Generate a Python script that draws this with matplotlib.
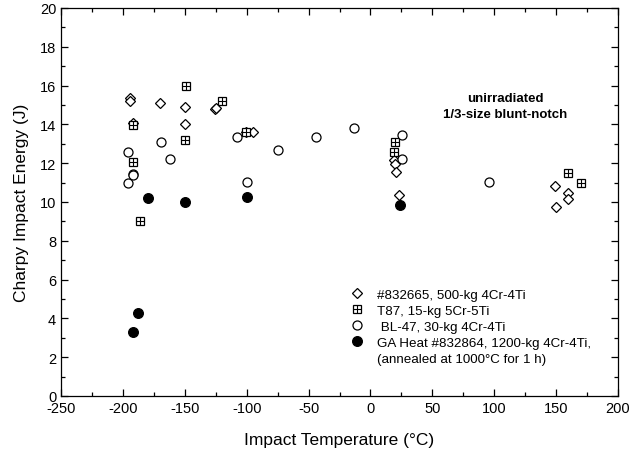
import matplotlib
matplotlib.use("Agg")
import matplotlib.pyplot as plt
from matplotlib.lines import Line2D
from matplotlib.legend_handler import HandlerTuple
from matplotlib.ticker import MultipleLocator

plt.rcParams['font.family'] = ['Liberation Sans', 'DejaVu Sans']
plt.rcParams['axes.unicode_minus'] = False

# #832665, 500-kg 4Cr-4Ti (open diamonds)
t_832665 = [-194, -194, -192, -170, -150, -150, -125.5, -125, -100.5, -95,
            19.3, 19.5, 21, 23.3, 149.5, 150, 160, 160]
e_832665 = [15.35, 15.2, 14.08, 15.08, 14.88, 14.02, 14.78, 14.85, 13.6, 13.62,
            12.18, 11.96, 11.55, 10.38, 10.8, 9.72, 10.46, 10.16]

# T87, 15-kg 5Cr-5Ti (squares with cross)
t_t87 = [-149, -120, -191.5, -149.5, -191.5, -186, -100.5, 19.8, 19.3, 160, 170]
e_t87 = [15.96, 15.22, 13.98, 13.21, 12.08, 9.0, 13.62, 13.07, 12.6, 11.5, 10.98]

# BL-47, 30-kg 4Cr-4Ti (open circles)
t_bl47 = [-196, -169.5, -162, -192, -191.5, -196, -108, -100, -74.5, -44.3, -13,
          25.2, 25.2, 96]
e_bl47 = [12.6, 13.08, 12.2, 11.42, 11.38, 10.98, 13.33, 11.02, 12.7, 13.33, 13.83,
          13.45, 12.2, 11.03]

# GA Heat #832864, 1200-kg 4Cr-4Ti (filled circles)
t_ga = [-179.5, -149.5, -188, -192, -100, 24]
e_ga = [10.22, 9.98, 4.27, 3.28, 10.28, 9.87]

fig = plt.figure(figsize=(6.29, 4.52), dpi=100)
ax = fig.add_axes([61/629, 55/452, 557/629, 388/452])

mk = dict(linestyle='none', markeredgecolor='black', markeredgewidth=0.9)
ax.plot(t_832665, e_832665, marker='D', markersize=5.6, markerfacecolor='white', **mk)
ax.plot(t_t87, e_t87, marker='s', markersize=5.5, markerfacecolor='white', **mk)
ax.plot(t_t87, e_t87, marker='+', markersize=5.5, color='black', markeredgewidth=0.8, linestyle='none')
ax.plot(t_bl47, e_bl47, marker='o', markersize=6.5, markerfacecolor='white', **mk)
ax.plot(t_ga, e_ga, marker='o', markersize=7, markerfacecolor='black', **mk)

ax.set_xlim(-250, 200)
ax.set_ylim(0, 20)
ax.xaxis.set_major_locator(MultipleLocator(50))
ax.xaxis.set_minor_locator(MultipleLocator(25))
ax.yaxis.set_major_locator(MultipleLocator(2))
ax.yaxis.set_minor_locator(MultipleLocator(1))
ax.tick_params(which='both', direction='in', top=True, right=True, labelsize=10.5, width=0.9)
ax.tick_params(which='major', length=5)
ax.tick_params(which='minor', length=3)
for s in ax.spines.values():
    s.set_linewidth(0.9)

ax.set_xlabel('Impact Temperature (°C)', fontsize=12.5, labelpad=12)
ax.set_ylabel('Charpy Impact Energy (J)', fontsize=12.5, labelpad=8)

ax.text(0.797, 0.748, 'unirradiated\n1/3-size blunt-notch', transform=ax.transAxes,
        ha='center', va='center', fontsize=9.5, fontweight='bold', linespacing=1.45)

h1 = Line2D([], [], marker='D', markersize=5.6, markerfacecolor='white', **mk)
h2 = (Line2D([], [], marker='s', markersize=5.5, markerfacecolor='white', **mk),
      Line2D([], [], marker='+', markersize=5.5, color='black', markeredgewidth=0.8, linestyle='none'))
h3 = Line2D([], [], marker='o', markersize=6.5, markerfacecolor='white', **mk)
h4 = Line2D([], [], marker='o', markersize=7, markerfacecolor='black', **mk)
h5 = Line2D([], [], linestyle='none')
labels = ['#832665, 500-kg 4Cr-4Ti', 'T87, 15-kg 5Cr-5Ti', ' BL-47, 30-kg 4Cr-4Ti',
          'GA Heat #832864, 1200-kg 4Cr-4Ti,', '(annealed at 1000°C for 1 h)']
ax.legend([h1, h2, h3, h4, h5], labels, handler_map={tuple: HandlerTuple(ndivide=1)},
          loc='upper left', bbox_to_anchor=(0.508, 0.29), frameon=False, fontsize=9.6,
          handlelength=1.2, handletextpad=0.9, labelspacing=0.27, borderaxespad=0)

fig.savefig('out.png', dpi=100)
